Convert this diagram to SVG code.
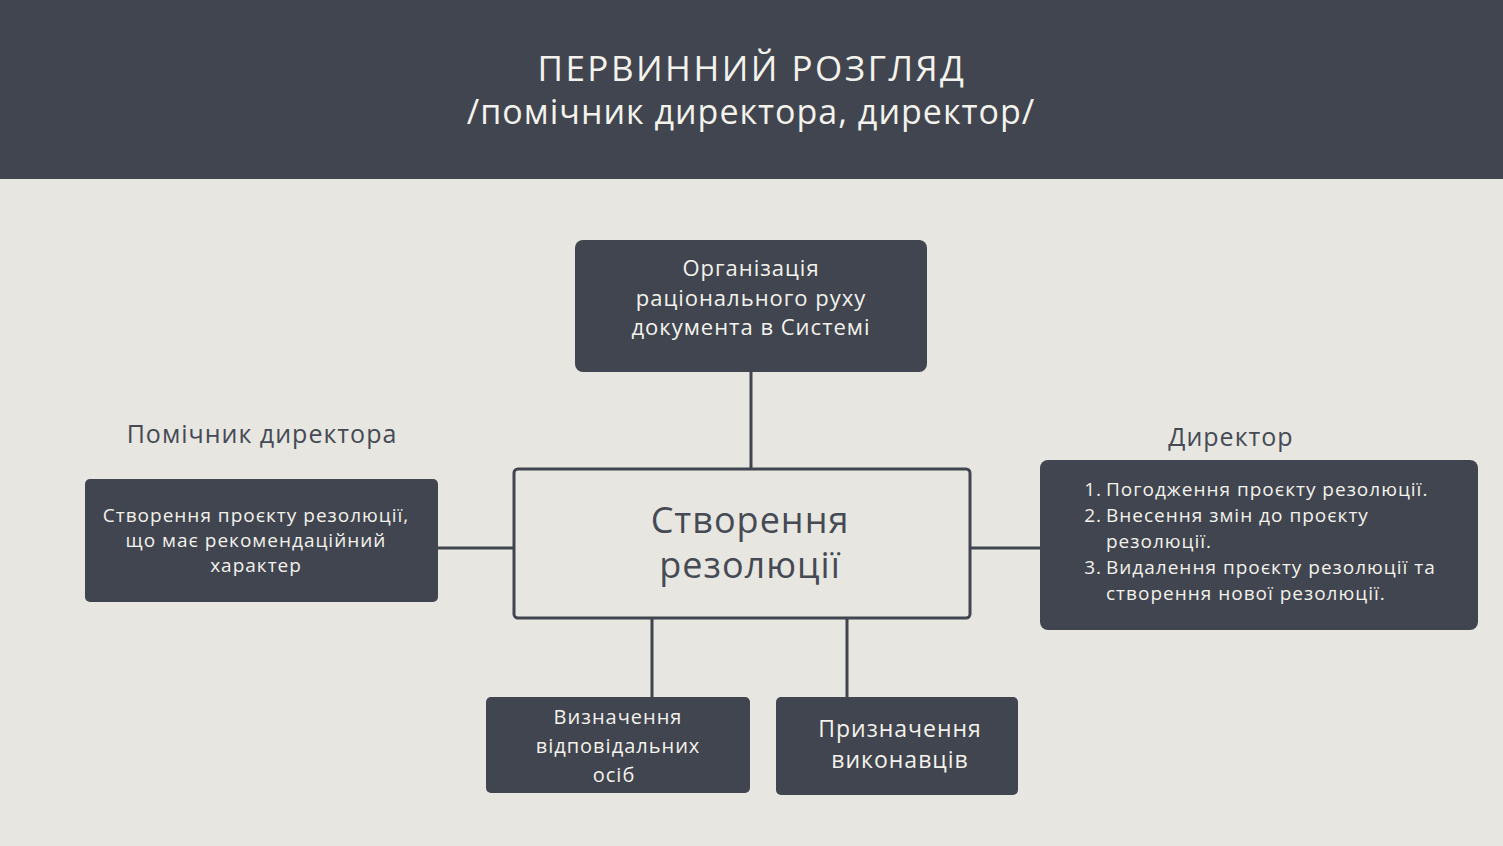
<svg xmlns="http://www.w3.org/2000/svg" width="1503" height="846" viewBox="0 0 1503 846">
<style>
text{font-family:"Open Sans","Noto Sans","DejaVu Sans",sans-serif;text-anchor:middle;letter-spacing:1px}
.lt{fill:#f4f2ec}
.dk{fill:#454a55}
.box{fill:#40454f}
.con{stroke:#40454f;stroke-width:3;fill:none}
.num{text-anchor:end}
.li{text-anchor:start}
</style>
<rect x="0" y="0" width="1503" height="846" fill="#e7e6e0"/>
<g id="header">
<rect x="0" y="0" width="1503" height="179" fill="#40454f"/>
<text class="lt" x="752" y="81" font-size="35" style="letter-spacing:2.5px">ПЕРВИННИЙ РОЗГЛЯД</text>
<text class="lt" x="751" y="124" font-size="34">/помічник директора, директор/</text>
</g>
<g id="connectors">
<line class="con" x1="751" y1="372" x2="751" y2="469"/>
<line class="con" x1="438" y1="548" x2="514" y2="548"/>
<line class="con" x1="970" y1="548" x2="1040" y2="548"/>
<line class="con" x1="652" y1="618" x2="652" y2="697"/>
<line class="con" x1="847" y1="618" x2="847" y2="697"/>
</g>
<g id="top">
<rect class="box" x="575" y="240" width="352" height="132" rx="8"/>
<text class="lt" x="751" y="276" font-size="22">Організація</text>
<text class="lt" x="751" y="306" font-size="22">раціонального руху</text>
<text class="lt" x="751" y="335" font-size="22">документа в Системі</text>
</g>
<g id="center">
<rect x="514" y="469" width="456" height="149" rx="4" fill="none" stroke="#40454f" stroke-width="3"/>
<text class="dk" x="750" y="533" font-size="36">Створення</text>
<text class="dk" x="750" y="578" font-size="36">резолюції</text>
</g>
<g id="assistant">
<text class="dk" x="262" y="443" font-size="25">Помічник директора</text>
<rect class="box" x="85" y="479" width="353" height="123" rx="5"/>
<text class="lt" x="256" y="522" font-size="19">Створення проєкту резолюції,</text>
<text class="lt" x="256" y="547" font-size="19">що має рекомендаційний</text>
<text class="lt" x="256" y="572" font-size="19">характер</text>
</g>
<g id="director">
<text class="dk" x="1231" y="446" font-size="25">Директор</text>
<rect class="box" x="1040" y="460" width="438" height="170" rx="8"/>
<text class="lt num" x="1102" y="496" font-size="19">1.</text>
<text class="lt li" x="1106" y="496" font-size="19">Погодження проєкту резолюції.</text>
<text class="lt num" x="1102" y="522" font-size="19">2.</text>
<text class="lt li" x="1106" y="522" font-size="19">Внесення змін до проєкту</text>
<text class="lt li" x="1106" y="548" font-size="19">резолюції.</text>
<text class="lt num" x="1102" y="574" font-size="19">3.</text>
<text class="lt li" x="1106" y="574" font-size="19">Видалення проєкту резолюції та</text>
<text class="lt li" x="1106" y="600" font-size="19">створення нової резолюції.</text>
</g>
<g id="responsible">
<rect class="box" x="486" y="697" width="264" height="96" rx="5"/>
<text class="lt" x="618" y="724" font-size="20">Визначення</text>
<text class="lt" x="618" y="753" font-size="20">відповідальних</text>
<text class="lt" x="614" y="782" font-size="20">осіб</text>
</g>
<g id="executors">
<rect class="box" x="776" y="697" width="242" height="98" rx="5"/>
<text class="lt" x="900" y="737" font-size="23">Призначення</text>
<text class="lt" x="900" y="768" font-size="23">виконавців</text>
</g>
</svg>
